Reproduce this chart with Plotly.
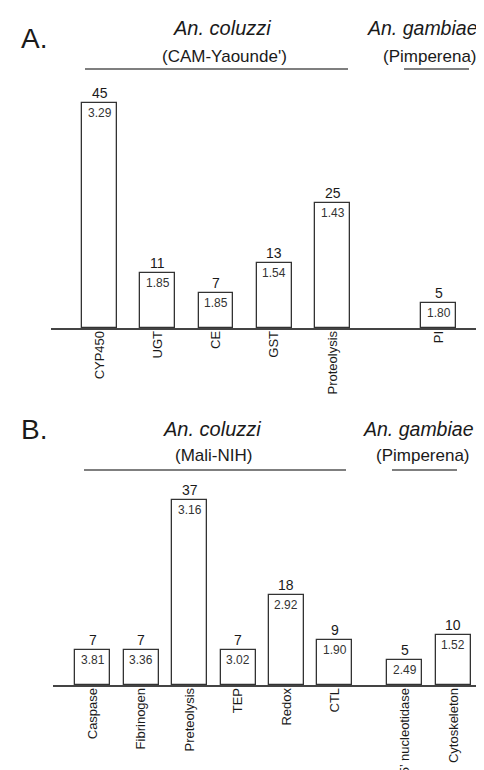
import plotly.graph_objects as go

W, H = 484, 770

# ---------------- Data ----------------
# Panel A
a_col_cats = ["CYP450", "UGT", "CE", "GST", "Proteolysis"]
a_col_counts = [45, 11, 7, 13, 25]
a_col_fold = ["3.29", "1.85", "1.85", "1.54", "1.43"]
a_gam_cats = ["PI"]
a_gam_counts = [5]
a_gam_fold = ["1.80"]

# Panel B
b_col_cats = ["Caspase", "Fibrinogen", "Preteolysis", "TEP", "Redox", "CTL"]
b_col_counts = [7, 7, 37, 7, 18, 9]
b_col_fold = ["3.81", "3.36", "3.16", "3.02", "2.92", "1.90"]
b_gam_cats = ["5\u2019 nucleotidase", "Cytoskeleton"]
b_gam_counts = [5, 10]
b_gam_fold = ["2.49", "1.52"]

# ---------------- Helpers ----------------
def px(x):
    return x / W


def py(y):
    return 1 - y / H


FONT = "Liberation Sans, Arial, sans-serif"
TXT = "#1a1a1a"
LINE = "#555555"

fig = go.Figure()

panels = [
    dict(ax="", cats1=a_col_cats, cnt1=a_col_counts, fold1=a_col_fold,
         cats2=a_gam_cats, cnt2=a_gam_counts, fold2=a_gam_fold,
         xl=43, xr=471, c0=91.5, step=58.25, gap=1.82, bw=0.6,
         base=320, top=70, ymax=50),
    dict(ax="2", cats1=b_col_cats, cnt1=b_col_counts, fold1=b_col_fold,
         cats2=b_gam_cats, cnt2=b_gam_counts, fold2=b_gam_fold,
         xl=45, xr=472, c0=84.8, step=48.4, gap=1.45, bw=0.723,
         base=677, top=427, ymax=50),
]

annotations = []
layout_axes = {}
for p in panels:
    n1 = len(p["cats1"])
    xs = list(range(n1)) + [n1 - 1 + p["gap"] + j for j in range(len(p["cats2"]))]
    cats = p["cats1"] + p["cats2"]
    counts = p["cnt1"] + p["cnt2"]
    folds = p["fold1"] + p["fold2"]
    xa, ya = "x" + p["ax"], "y" + p["ax"]

    fig.add_trace(go.Bar(
        x=xs, y=counts, width=p["bw"], xaxis=xa, yaxis=ya,
        marker=dict(color="white", line=dict(color="#333333", width=1.3)),
        showlegend=False, hoverinfo="skip"))

    for xv, c, f in zip(xs, counts, folds):
        annotations.append(dict(
            x=xv, y=c, xref=xa, yref=ya, text=str(c), showarrow=False,
            xanchor="center", yanchor="bottom", yshift=0,
            font=dict(family=FONT, size=14, color=TXT)))
        annotations.append(dict(
            x=xv, y=c, xref=xa, yref=ya, text=f, showarrow=False,
            xanchor="center", yanchor="top", yshift=-1,
            font=dict(family=FONT, size=12, color="#333333")))

    rng = [(p["xl"] - p["c0"]) / p["step"], (p["xr"] - p["c0"]) / p["step"]]
    layout_axes["xaxis" + p["ax"]] = dict(
        domain=[px(p["xl"]), px(p["xr"])], range=rng, anchor=ya,
        tickvals=xs, ticktext=cats, tickangle=-90, ticks="",
        ticklabelstandoff=-4,
        showline=True, linecolor="#444444", linewidth=1.5,
        showgrid=False, zeroline=False, fixedrange=True,
        tickfont=dict(family=FONT, size=13, color=TXT))
    layout_axes["yaxis" + p["ax"]] = dict(
        domain=[py(p["base"]), py(p["top"])], range=[0, p["ymax"]],
        anchor=xa, visible=False, fixedrange=True)

# ---------------- Headers ----------------
headers = [
    # text, x, y, size, italic
    ("A.", 26, 30, 28, False),
    ("An. coluzzi", 214, 20, 20, True),
    ("(CAM-Yaounde')", 216, 48, 17, False),
    ("An. gambiae", 414, 20, 19.5, True),
    ("(Pimperena)", 422, 48, 17, False),
    ("B.", 26, 422, 28, False),
    ("An. coluzzi", 204, 421, 20, True),
    ("(Mali-NIH)", 205, 447, 17, False),
    ("An. gambiae", 410, 421, 19.5, True),
    ("(Pimperena)", 415, 447, 17, False),
]
for t, x, y, s, it in headers:
    annotations.append(dict(
        text=f"<i>{t}</i>" if it else t, x=px(x), y=py(y),
        xref="paper", yref="paper", xanchor="center", yanchor="middle",
        showarrow=False, font=dict(family=FONT, size=s, color=TXT)))

rules = [(77, 340, 61), (396, 461, 61), (76, 338, 462), (384, 449, 462)]
shapes = [dict(type="line", xref="paper", yref="paper",
               x0=px(a), x1=px(b), y0=py(y), y1=py(y),
               line=dict(color=LINE, width=1.3)) for a, b, y in rules]

fig.update_layout(
    width=W, height=H, margin=dict(l=0, r=0, t=0, b=0),
    paper_bgcolor="white", plot_bgcolor="white",
    bargap=0, showlegend=False,
    annotations=annotations, shapes=shapes,
    **layout_axes)

fig.write_html("out.html", config={"displayModeBar": False})
